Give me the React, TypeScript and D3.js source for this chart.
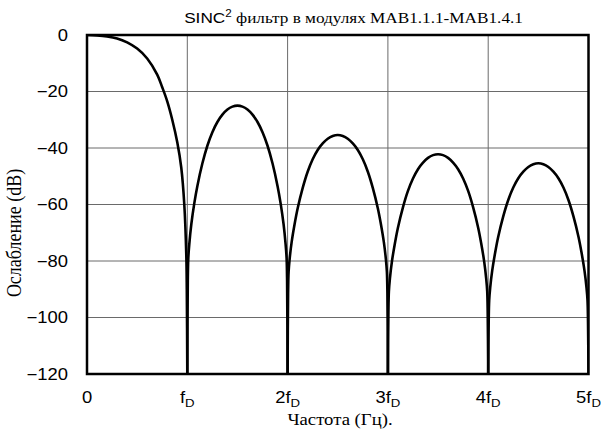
import React from "react";
import * as d3 from "d3";

// Frequency (multiples of fD) and attenuation (dB), one array per lobe
const lobe1: [number, number][] = [
  [0, 0], [0.1, -0.15], [0.2, -0.5], [0.3, -1.2], [0.4, -2.6], [0.5, -4.8], [0.6, -8.3],
  [0.7, -14], [0.75, -18.5], [0.8, -23.5], [0.85, -30], [0.9, -38], [0.94, -47],
  [0.97, -60], [0.99, -78], [0.995, -90], [1.0, -120],
];
const lobe2: [number, number][] = [
  [1.0, -120], [1.005, -87], [1.01, -79], [1.02, -74], [1.04, -67], [1.07, -59.5], [1.1, -53.5],
  [1.15, -45.5], [1.2, -39.2], [1.25, -34.4], [1.3, -30.8], [1.35, -28.2], [1.4, -26.4], [1.45, -25.35],
  [1.5, -25], [1.55, -25.35], [1.6, -26.4], [1.65, -28.2], [1.7, -30.8], [1.75, -34.4], [1.8, -39.2],
  [1.85, -45.5], [1.9, -53.5], [1.93, -59.5], [1.96, -67], [1.98, -74], [1.99, -79], [1.995, -87],
  [2.0, -120],
];
const lobe3: [number, number][] = [
  [2.0, -120], [2.005, -91.4], [2.01, -83.9], [2.02, -79.4], [2.04, -73.4], [2.07, -66.9], [2.1, -61.4],
  [2.15, -54.2], [2.2, -48.4], [2.25, -44], [2.3, -40.7], [2.35, -38.4], [2.4, -36.7], [2.45, -35.73],
  [2.5, -35.4], [2.55, -35.73], [2.6, -36.7], [2.65, -38.4], [2.7, -40.7], [2.75, -44], [2.8, -48.4],
  [2.85, -54.2], [2.9, -61.4], [2.93, -66.9], [2.96, -73.4], [2.98, -79.4], [2.99, -83.9], [2.995, -91.4],
  [3.0, -120],
];
const lobe4: [number, number][] = [
  [3.0, -120], [3.005, -98.2], [3.01, -90.7], [3.02, -86.2], [3.04, -80.2], [3.07, -73.7], [3.1, -68.2],
  [3.15, -61], [3.2, -55.2], [3.25, -50.8], [3.3, -47.5], [3.35, -45.2], [3.4, -43.5], [3.45, -42.53],
  [3.5, -42.2], [3.55, -42.53], [3.6, -43.5], [3.65, -45.2], [3.7, -47.5], [3.75, -50.8], [3.8, -55.2],
  [3.85, -61], [3.9, -68.2], [3.93, -73.7], [3.96, -80.2], [3.98, -86.2], [3.99, -90.7], [3.995, -98.2],
  [4.0, -120],
];
const lobe5: [number, number][] = [
  [4.0, -120], [4.005, -101.4], [4.01, -93.9], [4.02, -89.4], [4.04, -83.4], [4.07, -76.9], [4.1, -71.4],
  [4.15, -64.2], [4.2, -58.4], [4.25, -54], [4.3, -50.7], [4.35, -48.4], [4.4, -46.7], [4.45, -45.73],
  [4.5, -45.4], [4.55, -45.73], [4.6, -46.7], [4.65, -48.4], [4.7, -50.7], [4.75, -54], [4.8, -58.4],
  [4.85, -64.2], [4.9, -71.4], [4.93, -76.9], [4.96, -83.4], [4.98, -89.4], [4.99, -93.9], [4.995, -101.4],
  [5.0, -120],
];
const lobes = [lobe1, lobe2, lobe3, lobe4, lobe5];

const yTicks = [0, -20, -40, -60, -80, -100, -120];
const xTicks = [0, 1, 2, 3, 4, 5];
const xTickMain = ["0", "f", "2f", "3f", "4f", "5f"];
const xTickSub = ["", "D", "D", "D", "D", "D"];

const titleSans = "SINC";
const titleSup = "2";
const titleSerif = " фильтр в модулях MAB1.1.1-MAB1.4.1";
const xTitle = "Частота (Гц).";
const yTitle = "Ослабление (dB)";

const W = 601;
const H = 438;
const L = 87, R = 588.5, T = 35, B = 374;
const SX = 1.15; // horizontal stretch of the lettering

export default function App() {
  const x = d3.scaleLinear().domain([0, 5]).range([L, R]);
  const y = d3.scaleLinear().domain([-120, 0]).range([B, T]);
  const line = d3
    .line<[number, number]>()
    .x((d) => x(d[0]))
    .y((d) => y(d[1]))
    .curve(d3.curveCatmullRom.alpha(0.5));
  const sans = "'Liberation Sans', Arial, sans-serif";
  const serif = "'Liberation Serif', 'Times New Roman', serif";
  return (
    <svg
      width={W}
      height={H}
      style={{ position: "absolute", left: 0, top: 0, background: "#fff" }}
    >
      <defs>
        <clipPath id="plotclip">
          <rect x={L} y={T} width={R - L} height={B - T} />
        </clipPath>
      </defs>
      <rect x={0} y={0} width={W} height={H} fill="#fff" />
      {yTicks.map((t) => (
        <line key={"gy" + t} x1={L} x2={R} y1={y(t)} y2={y(t)} stroke="#6a6a6a" strokeWidth={1} />
      ))}
      {xTicks.map((t) => (
        <line key={"gx" + t} x1={x(t)} x2={x(t)} y1={T} y2={B} stroke="#6a6a6a" strokeWidth={1} />
      ))}
      <g clipPath="url(#plotclip)">
        {lobes.map((lb, i) => (
          <path key={i} d={line(lb) || ""} fill="none" stroke="#000" strokeWidth={2.6} strokeLinejoin="round" />
        ))}
      </g>
      <rect x={L} y={T} width={R - L} height={B - T} fill="none" stroke="#000" strokeWidth={2.5} />
      {yTicks.map((t) => (
        <g key={"yl" + t} transform={`translate(68, ${y(t) + 5.5}) scale(${SX}, 1)`}>
          <text x={0} y={0} textAnchor="end" fontFamily={sans} fontSize={16} fill="#000">
            {t < 0 ? "\u2212" + Math.abs(t) : String(t)}
          </text>
        </g>
      ))}
      {xTicks.map((t, i) => (
        <g key={"xl" + t} transform={`translate(${x(t)}, 403) scale(${SX}, 1)`}>
          <text x={0} y={0} textAnchor="middle" fontFamily={sans} fontSize={16} fill="#000">
            {xTickMain[i]}
            {xTickSub[i] ? (
              <tspan fontSize={11.5} dy={4}>
                {xTickSub[i]}
              </tspan>
            ) : null}
          </text>
        </g>
      ))}
      <g transform={`translate(353.5, 23) scale(1.11, 1)`}>
        <text x={0} y={0} textAnchor="middle" fontSize={15.5} fill="#000" fontFamily={serif}>
          <tspan fontFamily={sans}>{titleSans}</tspan>
          <tspan fontFamily={sans} fontSize={10.5} dy={-6}>
            {titleSup}
          </tspan>
          <tspan dy={6}>{titleSerif}</tspan>
        </text>
      </g>
      <g transform={`translate(340, 425) scale(1.17, 1)`}>
        <text x={0} y={0} textAnchor="middle" fontFamily={serif} fontSize={16} fill="#000">
          {xTitle}
        </text>
      </g>
      <g transform={`translate(21, 233) scale(1.15, 1) rotate(-90)`}>
        <text x={0} y={0} textAnchor="middle" fontFamily={serif} fontSize={18} fill="#000">
          {yTitle}
        </text>
      </g>
    </svg>
  );
}
